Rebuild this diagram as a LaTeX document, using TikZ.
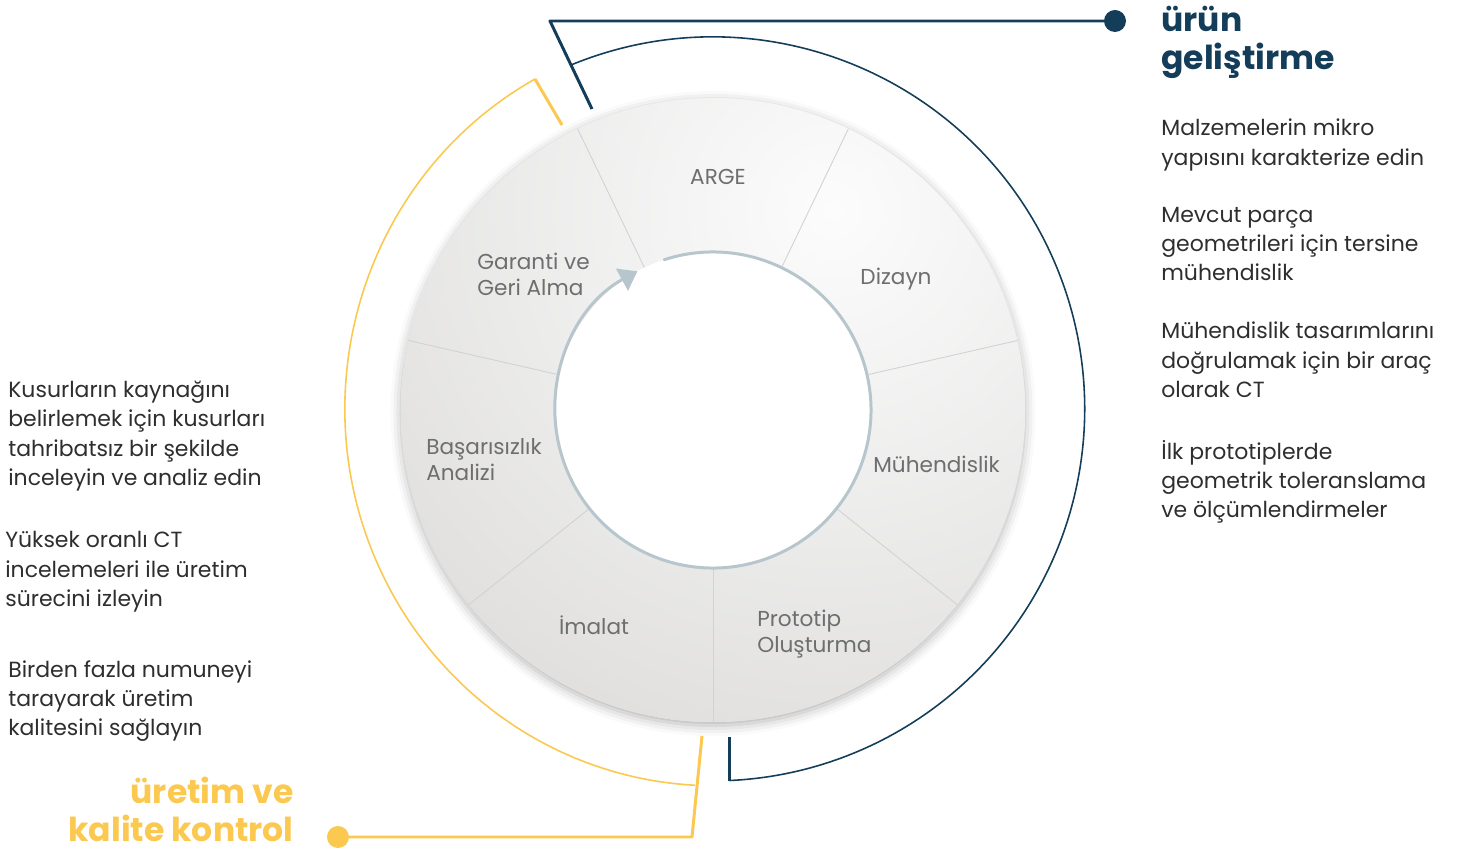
\documentclass[tikz,border=0pt]{standalone}
\usepackage{fontspec}
\setmainfont{Poppins}
\usetikzlibrary{arrows.meta,shadows.blur}
\definecolor{navy}{HTML}{143D59}
\definecolor{gold}{HTML}{FBC850}
\definecolor{ringlo}{HTML}{DFDEDD}
\definecolor{ringhi}{HTML}{FCFCFC}
\definecolor{sepline}{HTML}{D2D2D2}
\definecolor{cyclearrow}{HTML}{B7C5CC}
\definecolor{labelgray}{HTML}{6E6E6E}
\definecolor{bodytext}{HTML}{2E2E2E}
\begin{document}
\begin{tikzpicture}[x=0.02cm,y=0.02cm,line join=round,line cap=round,>=Triangle,
	lbl/.style={text=labelgray,font=\fontsize{12.3}{14.7}\selectfont,align=left,inner sep=0pt},
	txt/.style={text=bodytext,font=\fontsize{12.5}{16.7}\selectfont,align=left,inner sep=0pt},
	ttl/.style={font=\bfseries\fontsize{18.8}{21.3}\selectfont,inner sep=0pt}]
	\useasboundingbox (-713,-442) rectangle (745,410);
	\coordinate (O) at (0,0);
	% wheel
	\fill[white,blur shadow={shadow xshift=0pt,shadow yshift=-2pt,shadow blur radius=6pt,shadow opacity=30}] (O) circle (312);
	\begin{scope}
		\clip (O) circle (312);
		\fill[ringlo] (O) circle (312);
		\shade[inner color=ringhi,outer color=ringlo] (120,200) circle (580);
	\end{scope}
	\foreach \i in {0,...,6}
		\draw[sepline,line width=0.5pt] ({64.29-51.43*\i}:158) -- ({64.29-51.43*\i}:312);
	\fill[white] (O) circle (158);
	\draw[cyclearrow,line width=1.7pt,-{Triangle[width=14pt,length=10pt]}] (108:158) arc[start angle=108,end angle=-241.4,radius=158];
	% steps
	\node[lbl] (arge) at (5,233) {ARGE};
	\node[lbl] (dizayn) at (183,131) {Dizayn};
	\node[lbl,anchor=west] (muh) at (160,-54) {Mühendislik};
	\node[lbl,anchor=west] (proto) at (44,-224) {Prototip\\Oluşturma};
	\node[lbl] (imalat) at (-119,-215) {İmalat};
	\node[lbl,anchor=west] (basari) at (-287,-50) {Başarısızlık\\Analizi};
	\node[lbl,anchor=west] (garanti) at (-236,136) {Garanti ve\\Geri Alma};
	% urun gelistirme
	\coordinate (N) at (402,389);
	\coordinate (N1) at (-163,389);
	\coordinate (N2) at (-121,301);
	\coordinate (N3) at (-142,345);
	\draw[navy,line width=1.7pt,line cap=butt] (N) -- (N1) -- (N2);
	\fill[navy] (N) circle (11);
	\draw[navy,line width=0.9pt] (N3) arc[start angle=112.4,end angle=-87.4,radius=372] coordinate (N4);
	\draw[navy,line width=1.7pt,line cap=butt] (N4) -- ++(0,44);
	\node[ttl,text=navy,anchor=north west,align=left] (U) at (448,404) {ürün\\geliştirme};
	\node[txt,anchor=west] (u1) at (448,265) {Malzemelerin mikro\\yapısını karakterize edin};
	\node[txt,anchor=west] (u2) at (448,166) {Mevcut parça\\geometrileri için tersine\\mühendislik};
	\node[txt,anchor=west] (u3) at (448,50) {Mühendislik tasarımlarını\\doğrulamak için bir araç\\olarak CT};
	\node[txt,anchor=west] (u4) at (448,-72) {İlk prototiplerde\\geometrik toleranslama\\ve ölçümlendirmeler};
	% uretim ve kalite kontrol
	\coordinate (Y) at (-375,-427);
	\coordinate (Y1) at (-21,-427);
	\coordinate (Y2) at (-11,-326);
	\coordinate (Y3) at (-151,285);
	\coordinate (Y4) at (-178,331);
	\draw[gold,line width=1.7pt,line cap=butt] (Y) -- (Y1) -- (Y2);
	\fill[gold] (Y) circle (11);
	\draw[gold,line width=1.7pt,line cap=butt] (Y3) -- (Y4);
	\draw[gold,line width=0.9pt] (Y4) arc[start angle=119,end angle=267,x radius=369,y radius=377];
	\node[ttl,text=gold,anchor=south east,align=right] (K) at (-419,-432) {üretim ve\\kalite kontrol};
	\node[txt,anchor=west] (k1) at (-705,-26) {Kusurların kaynağını\\belirlemek için kusurları\\tahribatsız bir şekilde\\inceleyin ve analiz edin};
	\node[txt,anchor=west] (k2) at (-708,-162) {Yüksek oranlı CT\\incelemeleri ile üretim\\sürecini izleyin};
	\node[txt,anchor=west] (k3) at (-705,-291) {Birden fazla numuneyi\\tarayarak üretim\\kalitesini sağlayın};
\end{tikzpicture}
\end{document}
